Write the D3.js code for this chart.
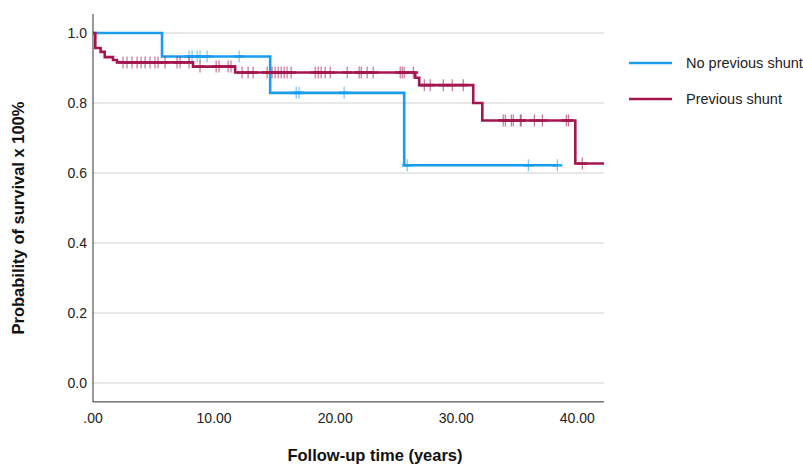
<!DOCTYPE html>
<html>
<head>
<meta charset="utf-8">
<script src="https://cdn.jsdelivr.net/npm/d3@7"></script>
<style>
  body { margin: 0; background: #fff; }
  svg { display: block; font-family: "Liberation Sans", Arial, Helvetica, sans-serif; }
</style>
</head>
<body>
<svg id="chart" width="803" height="466"></svg>
<script>
// ---- Data ----
const seriesNames = ["No previous shunt", "Previous shunt"];
const seriesColors = ["#1a9cf0", "#a3164f"];

// Step (event) times in years and survival after each event
const blueEventTimes = [0, 5.70, 14.63, 25.70];
const blueSurvival   = [1.0, 0.933, 0.829, 0.622];
const blueEndTime    = 38.35;
const blueCensorTimes = [7.93, 8.18, 8.60, 8.84, 9.42, 12.07, 16.78, 17.02, 20.74, 25.95, 35.95, 38.35];

const redEventTimes = [0, 0.19, 0.63, 0.97, 1.65, 1.98, 8.26, 11.74, 26.61, 26.94, 31.40, 32.15, 39.83];
const redSurvival   = [1.0, 0.957, 0.946, 0.931, 0.923, 0.916, 0.904, 0.887, 0.872, 0.851, 0.800, 0.750, 0.627];
const redEndTime    = 42.2;
const redCensorTimes = [2.48, 2.81, 3.22, 3.64, 3.97, 4.30, 4.71, 5.12, 5.37, 5.95, 6.94, 7.19, 7.93,
  8.84, 10.17, 10.41, 11.16, 11.40,
  12.31, 12.81, 13.22, 14.38, 14.79, 15.04, 15.29, 15.54, 15.79, 16.03, 16.36,
  18.35, 18.60, 18.84, 19.17, 19.59, 20.99, 21.98, 22.15, 22.64, 23.14, 25.37, 25.54, 25.70, 26.45,
  27.36, 27.85, 28.93, 29.67, 30.58,
  33.88, 34.05, 34.55, 34.71, 35.29, 35.37, 36.45, 37.11, 39.09, 39.26,
  40.41];

const xTicks = [0, 10, 20, 30, 40];
const xTickLabels = [".00", "10.00", "20.00", "30.00", "40.00"];
const yTicks = [0, 0.2, 0.4, 0.6, 0.8, 1.0];
const yTickLabels = ["0.0", "0.2", "0.4", "0.6", "0.8", "1.0"];
const xTitle = "Follow-up time (years)";
const yTitle = "Probability of survival x 100%";

// ---- Layout ----
const svg = d3.select("#chart");
const x = d3.scaleLinear().domain([0, 42.2]).range([93, 604]);
const y = d3.scaleLinear().domain([0, 1]).range([383, 33]);
const yMin = -0.054, yMax = 1.054;

// clip
svg.append("defs").append("clipPath").attr("id", "plotclip")
  .append("rect").attr("x", x(0)).attr("y", y(yMax)).attr("width", x(42.2) - x(0)).attr("height", y(yMin) - y(yMax));

// gridlines
svg.append("g").selectAll("line").data(yTicks).join("line")
  .attr("x1", x(0)).attr("x2", x(42.2))
  .attr("y1", d => y(d)).attr("y2", d => y(d))
  .attr("stroke", "#cfcfcf").attr("stroke-width", 1.2);

// axes lines
svg.append("line").attr("x1", x(0)).attr("x2", x(0)).attr("y1", y(yMax)).attr("y2", y(yMin))
  .attr("stroke", "#555").attr("stroke-width", 1.2);
svg.append("line").attr("x1", x(0)).attr("x2", x(42.2)).attr("y1", y(yMin)).attr("y2", y(yMin))
  .attr("stroke", "#555").attr("stroke-width", 1.2);

// y tick labels
svg.append("g").selectAll("text").data(yTicks).join("text")
  .attr("x", 87).attr("y", d => y(d)).attr("dy", "0.35em")
  .attr("text-anchor", "end").attr("font-size", 14).attr("fill", "#222")
  .text((d, i) => yTickLabels[i]);

// x tick labels
svg.append("g").selectAll("text").data(xTicks).join("text")
  .attr("x", d => x(d)).attr("y", 418).attr("dy", "0.35em")
  .attr("text-anchor", "middle").attr("font-size", 14).attr("fill", "#222")
  .text((d, i) => xTickLabels[i]);

// titles
svg.append("text").attr("x", 375).attr("y", 455).attr("dy", "0.35em")
  .attr("text-anchor", "middle").attr("font-size", 16.5).attr("font-weight", "bold").attr("fill", "#111")
  .text(xTitle);
svg.append("text").attr("transform", "translate(18,218) rotate(-90)").attr("dy", "0.35em")
  .attr("text-anchor", "middle").attr("font-size", 16.5).attr("font-weight", "bold").attr("fill", "#111")
  .text(yTitle);

// survival step function
function survAt(times, surv, t) {
  let s = surv[0];
  for (let i = 0; i < times.length; i++) if (times[i] <= t) s = surv[i];
  return s;
}

const series = [
  { times: blueEventTimes, surv: blueSurvival, end: blueEndTime, censor: blueCensorTimes, color: seriesColors[0] },
  { times: redEventTimes, surv: redSurvival, end: redEndTime, censor: redCensorTimes, color: seriesColors[1] }
];

const line = d3.line().x(d => x(d[0])).y(d => y(d[1])).curve(d3.curveStepAfter);
const plot = svg.append("g").attr("clip-path", "url(#plotclip)");

series.forEach(s => {
  const pts = s.times.map((t, i) => [t, s.surv[i]]);
  pts.push([s.end, s.surv[s.surv.length - 1]]);
  plot.append("path").datum(pts).attr("d", line)
    .attr("fill", "none").attr("stroke", s.color).attr("stroke-width", 2.6)
    .attr("stroke-linejoin", "miter");
  const g = plot.append("g").attr("stroke", s.color).attr("stroke-opacity", 0.6).attr("stroke-width", 1.2);
  s.censor.forEach(t => {
    const cx = x(t), cy = y(survAt(s.times, s.surv, t));
    g.append("line").attr("x1", cx).attr("x2", cx).attr("y1", cy - 6).attr("y2", cy + 6);
    g.append("line").attr("x1", cx - 5).attr("x2", cx + 5).attr("y1", cy).attr("y2", cy).attr("stroke-width", 2.6).attr("stroke-opacity", 0.9);
  });
});

// legend
const legendY = [63, 99];
seriesNames.forEach((name, i) => {
  svg.append("line").attr("x1", 629).attr("x2", 672).attr("y1", legendY[i]).attr("y2", legendY[i])
    .attr("stroke", seriesColors[i]).attr("stroke-width", 2.6);
  svg.append("text").attr("x", 686).attr("y", legendY[i]).attr("dy", "0.35em")
    .attr("font-size", 14.5).attr("fill", "#222").text(name);
});
</script>
</body>
</html>
